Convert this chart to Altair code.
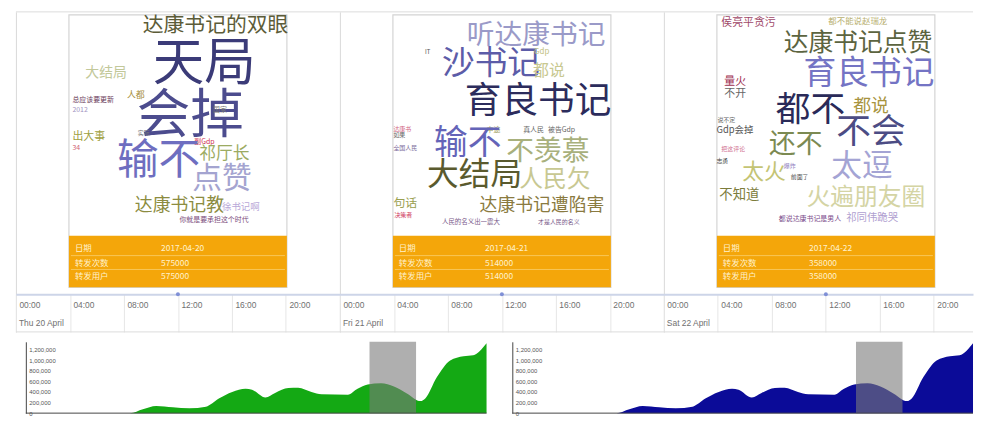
import altair as alt
import pandas as pd

# ---------------- data ----------------
day_labels = ["Thu 20 April", "Fri 21 April", "Sat 22 April"]
day_start_hours = [0, 24, 48]
card_center_hours = [12, 36, 60]
tick_hours = list(range(0, 72, 4))

table_labels = ["日期", "转发次数", "转发用户"]
card_dates = ["2017-04-20", "2017-04-21", "2017-04-22"]
card_forwards = [575000, 514000, 358000]
card_users = [575000, 514000, 358000]

cloud1_words = ["达康书记的双眼", "天局", "大结局", "人都", "总应该要更新", "2012", "会掉", "出大事", "34", "实际",
                "国家", "副Gdp", "输不", "祁厅长", "点赞", "达康书记教", "徐书记啊", "你就是要承担这个时代"]
cloud1_x = [143, 153, 85, 127, 72, 72, 137, 72, 72, 138, 214, 195, 117, 200, 193, 135, 223, 180]
cloud1_y = [23, 62, 71, 93, 98, 108, 115, 135, 146, 131, 108, 140, 160, 152, 178, 205, 206, 219]
cloud1_size = [21, 52, 14, 9, 7, 7, 54, 11, 7, 6, 7, 7, 42, 17, 30, 18, 9.5, 7]
cloud1_color = ["#5c5c38", "#3b3b78", "#c2c89a", "#a89040", "#6a3a5a", "#a090c0", "#4c4c8e", "#a0a040", "#d06070",
                "#777777", "#777777", "#d03050", "#6e6ec0", "#9cab62", "#a4a4d0", "#8c8c40", "#b8a8d8", "#7a4a7a"]

cloud2_words = ["听达康书记", "IT", "沙书记", "Gdp", "都说", "育良书记", "达康书", "如果", "全国人民", "中途", "真人民",
                "被告Gdp", "输不", "不羡慕", "大结局", "人民欠", "句话", "达康书记遭陷害", "决策者", "人民的名义出一震大",
                "才是人民的名义"]
cloud2_x = [470, 428, 445, 538, 537, 468, 396, 396, 396, 490, 527, 552, 437, 510, 430, 523, 396, 483, 397, 445, 542]
cloud2_y = [33, 50, 62, 50, 69, 100, 127, 133, 146, 128, 128, 128, 142, 151, 174, 179, 202, 205, 214, 221, 221]
cloud2_size = [28, 6, 33, 8, 16, 37, 6, 6, 6, 7, 7, 7, 34, 28, 32, 24, 12, 18, 6, 6.5, 6]
cloud2_color = ["#9a9ac8", "#555555", "#5c5ca8", "#c0c080", "#c8c890", "#2c2c5c", "#d06080", "#666666", "#7a6a9a",
                "#a0a060", "#666666", "#666666", "#6464b8", "#a8b07c", "#5a5a2e", "#c8c892", "#9aa050", "#8a7a40",
                "#d04060", "#7a5a8a", "#7a5a8a"]

cloud3_words = ["侯亮平贪污", "都不能说赵瑞龙", "达康书记点赞", "育良书记", "量火", "不开", "都不", "都说", "不会", "说不定",
                "Gdp会掉", "还不", "把这评论", "志勇", "太火", "爆炸", "前面了", "太逗", "不知道", "火遍朋友圈",
                "都说达康书记是男人", "祁同伟跪哭"]
cloud3_x = [727, 835, 790, 810, 730, 730, 782, 860, 843, 723, 722, 775, 727, 722, 748, 790, 797, 838, 725, 813, 785, 853]
cloud3_y = [20, 18, 40, 72, 80, 92, 108, 105, 130, 118, 128, 143, 147, 160, 171, 165, 176, 166, 194, 197, 218, 217]
cloud3_size = [11, 8.5, 25, 33, 11, 11, 35, 18, 35, 6, 9.5, 27, 6, 6, 22, 6, 6, 31, 13.5, 24, 7, 10.5]
cloud3_color = ["#a04868", "#b8b070", "#5c6440", "#7474c4", "#a03050", "#666666", "#2a2a58", "#a89440", "#4c4c84",
                "#666666", "#555555", "#7c8a52", "#d07090", "#444444", "#c4c474", "#9080c0", "#555555", "#a4a4d4",
                "#7c7c3c", "#d4d4a4", "#7a4a8a", "#b0a0d0"]

trend_x = [0, 22.6, 25.4, 28.3, 31.9, 35.5, 39.1, 41.9, 44.8, 47.7, 49.1, 52.0, 54.1, 57.0, 59.1, 62.0, 64.2,
           69.9, 72.0, 74.2, 77.1, 79.9, 82.8, 85.7, 86.7, 89.2, 92.1, 95.0, 97.1, 100]
trend_values = [0, 0, 74000, 135000, 111000, 92000, 123000, 277000, 400000, 462000, 443000, 295000, 382000,
                474000, 480000, 400000, 357000, 350000, 462000, 541000, 566000, 505000, 369000, 228000, 277000,
                677000, 997000, 1077000, 1095000, 1323000]
highlight_range = [74.6, 84.7]
area_y_ticks = [0, 200000, 400000, 600000, 800000, 1000000, 1200000]

# ---------------- layout constants ----------------
CJK = "Noto Sans CJK SC"
TOP_W, TOP_H = 966, 323
PXH = 13.625                      # pixels per hour on the timeline
FRAME_TOP = 9                     # page y of the top frame
LEFT0 = 15                        # page x of Thu 00:00
CARD_HALF = 110 / PXH
AXIS_Y = 285
X_END = TOP_W / PXH

xs = alt.Scale(domain=[0, X_END], nice=False, zero=False)
ys = alt.Scale(domain=[0, TOP_H], reverse=True, nice=False, zero=False)
xaxis = alt.Axis(
    values=tick_hours, orient="bottom", offset=-38, tickSize=38, tickColor="#e6e6e6",
    labelExpr="(datum.value % 24 < 10 ? '0' : '') + (datum.value % 24) + ':00'",
    labelPadding=-32, labelAlign="left", labelBaseline="top", labelOffset=3,
    labelFontSize=8.5, labelColor="#707070", labelFont="Liberation Sans",
    labelOverlap=False, labelFlush=False, labelBound=False,
    domainColor="#cdd5e8", domainWidth=2, grid=True, gridColor="#d9d9d9",
    gridOpacity={"condition": {"test": "datum.value % 24 == 0", "value": 1}, "value": 0},
    title=None,
)


def X(f):
    return alt.X(f, type="quantitative", scale=xs, axis=xaxis)


def Y(f):
    return alt.Y(f, type="quantitative", scale=ys, axis=None)


cards = pd.DataFrame({
    "c": card_center_hours,
    "l": [c - CARD_HALF for c in card_center_hours],
    "r": [c + CARD_HALF for c in card_center_hours],
    "t": [3] * 3, "b": [278] * 3, "o": [226] * 3,
})

rows = []
for i, c in enumerate(card_center_hours):
    vals = [card_dates[i], str(card_forwards[i]), str(card_users[i])]
    for j, lab in enumerate(table_labels):
        yy = [238, 253, 267][j]
        rows.append({"x": c - CARD_HALF + 6 / PXH, "y": yy, "text": lab})
        rows.append({"x": c - CARD_HALF + 93 / PXH, "y": yy, "text": vals[j]})
table_df = pd.DataFrame(rows)

seps = []
for c in card_center_hours:
    for yy in [246, 260]:
        seps.append({"l": c - CARD_HALF + 2 / PXH, "r": c + CARD_HALF - 2 / PXH, "y": yy})
sep_df = pd.DataFrame(seps)

wrows = []
for ws, xs_, ys_, ss, cs in [
    (cloud1_words, cloud1_x, cloud1_y, cloud1_size, cloud1_color),
    (cloud2_words, cloud2_x, cloud2_y, cloud2_size, cloud2_color),
    (cloud3_words, cloud3_x, cloud3_y, cloud3_size, cloud3_color),
]:
    for w, xx, yy, s, col in zip(ws, xs_, ys_, ss, cs):
        wrows.append({"x": (xx - LEFT0) / PXH, "y": yy - FRAME_TOP, "word": w, "size": s, "color": col})
words_df = pd.DataFrame(wrows)

days_df = pd.DataFrame({"x": day_start_hours, "label": day_labels, "y": [314] * 3})
dots_df = pd.DataFrame({"x": card_center_hours, "y": [AXIS_Y] * 3})
frame_df = pd.DataFrame({"x0": [0, 0], "x1": [X_END, X_END], "y": [0, TOP_H]})

frame_layer = alt.Chart(frame_df).mark_rule(color="#dcdcdc", strokeWidth=1).encode(x=X("x0"), x2="x1", y=Y("y"))
card_layer = alt.Chart(cards).mark_rect(fill="white", stroke="#d4d4d4", strokeWidth=1.2).encode(
    x=X("l"), x2="r", y=Y("t"), y2="b")
orange_layer = alt.Chart(cards).mark_rect(fill="#f4a60a").encode(x=X("l"), x2="r", y=Y("o"), y2="b")
sep_layer = alt.Chart(sep_df).mark_rule(color="#f8c658", strokeWidth=1).encode(x=X("l"), x2="r", y=Y("y"))
table_layer = alt.Chart(table_df).mark_text(align="left", baseline="middle", font=CJK, fontSize=8.5,
                                            color="#fff1cc").encode(x=X("x"), y=Y("y"), text="text:N")
words_layer = alt.Chart(words_df).mark_text(align="left", baseline="middle", font=CJK).encode(
    x=X("x"), y=Y("y"), text="word:N",
    size=alt.Size("size:Q", scale=None, legend=None),
    color=alt.Color("color:N", scale=None, legend=None))
dots_layer = alt.Chart(dots_df).mark_point(filled=True, size=16, color="#7f8fd6", opacity=1).encode(
    x=X("x"), y=Y("y"))
days_layer = alt.Chart(days_df).mark_text(align="left", baseline="middle", dx=3, fontSize=8.5,
                                          font="Liberation Sans", color="#707070").encode(
    x=X("x"), y=Y("y"), text="label:N")

top = alt.layer(frame_layer, card_layer, orange_layer, sep_layer, table_layer, words_layer, dots_layer,
                days_layer).properties(width=TOP_W, height=TOP_H)

# ---------------- bottom area charts ----------------
trend_df = pd.DataFrame({"t": trend_x, "v": trend_values})
hl_df = pd.DataFrame({"x0": [highlight_range[0]], "x1": [highlight_range[1]], "y0": [0], "y1": [1350000]})
base_df = pd.DataFrame({"x0": [0], "x1": [100], "y": [0]})

axs = alt.Scale(domain=[-2.15, 100], nice=False, zero=False)
ays = alt.Scale(domain=[0, 1350000], nice=False)
ayaxis = alt.Axis(values=area_y_ticks, format=",d", offset=-10, ticks=False, tickSize=0, labelAlign="left",
                  labelPadding=-3, labelFontSize=6, labelColor="#555555", labelFont="Liberation Sans",
                  domainColor="#444444", domainWidth=1, grid=False, title=None)


def area_panel(color):
    area = alt.Chart(trend_df).mark_area(interpolate="monotone", color=color, opacity=1).encode(
        x=alt.X("t:Q", scale=axs, axis=None), y=alt.Y("v:Q", scale=ays, axis=ayaxis))
    hl = alt.Chart(hl_df).mark_rect(color="#7a7a7a", opacity=0.6).encode(
        x=alt.X("x0:Q", scale=axs, axis=None), x2="x1", y=alt.Y("y0:Q", scale=ays, axis=ayaxis), y2="y1")
    baseline = alt.Chart(base_df).mark_rule(color="#444444", strokeWidth=1).encode(
        x=alt.X("x0:Q", scale=axs, axis=None), x2="x1", y=alt.Y("y:Q", scale=ays, axis=ayaxis))
    return alt.layer(area, hl, baseline).properties(width=475, height=72)


bottom = alt.hconcat(area_panel("#14a914"), area_panel("#0b0b98"), spacing=14)

chart = alt.vconcat(top, bottom, spacing=8).properties(
    padding={"left": 7, "top": 1, "right": 0, "bottom": 0}
).configure_view(stroke="transparent")

chart.save("out.html", embed_options={"renderer": "svg", "actions": False})
